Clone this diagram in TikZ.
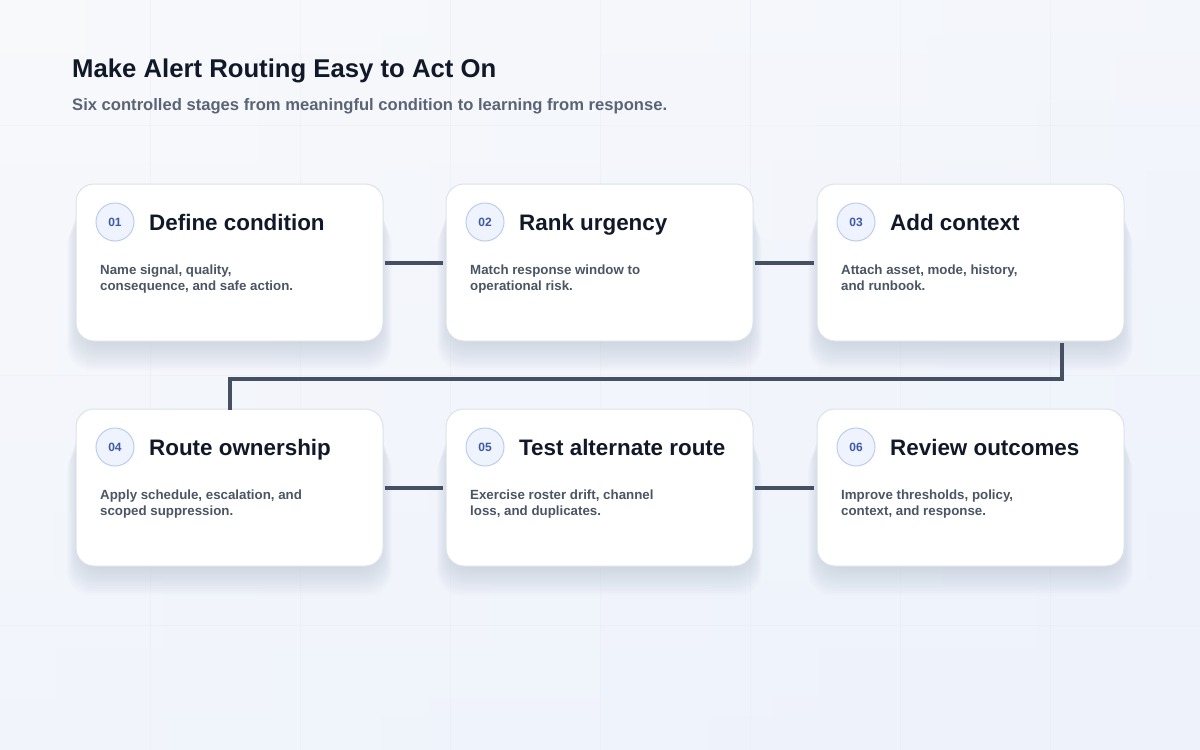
\documentclass[tikz,border=0pt]{standalone}
\usepackage{fontspec}
\setmainfont{Liberation Sans}
\usetikzlibrary{calc}
\definecolor{bgA}{HTML}{F8F9FB}
\definecolor{bgB}{HTML}{EDF2FB}
\definecolor{gridc}{HTML}{E6EAF1}
\definecolor{cardline}{HTML}{DCE2EB}
\definecolor{titlec}{HTML}{111827}
\definecolor{subc}{HTML}{5B6475}
\definecolor{bodyc}{HTML}{4B5563}
\definecolor{badgefill}{HTML}{EEF3FD}
\definecolor{badgeline}{HTML}{BCCDEC}
\definecolor{badgetext}{HTML}{3C5AA6}
\definecolor{linkc}{HTML}{465063}
\definecolor{shadowc}{HTML}{334155}
\tikzset{
  card/.style={rectangle, rounded corners=18pt, minimum width=307pt, minimum height=157pt,
    fill=white, draw=cardline, line width=1pt, inner sep=0pt},
  badge/.style={circle, minimum size=38pt, inner sep=0pt, fill=badgefill, draw=badgeline,
    line width=1pt, text=badgetext, font=\bfseries\fontsize{12}{12}\selectfont},
  cardtitle/.style={anchor=base west, inner sep=0pt, text=titlec, font=\bfseries\fontsize{22.4}{26}\selectfont},
  cardbody/.style={anchor=base west, inner sep=0pt, text=bodyc, align=left,
    font=\bfseries\fontsize{13.3}{16}\selectfont},
  link/.style={draw=linkc, line width=4pt},
  shadowlayer/.style={fill=shadowc, fill opacity=0.013, rounded corners=24pt},
}
\newcommand{\cardshadow}[2]{%
  \foreach \d in {3,6,...,39}{
    \pgfmathsetmacro{\e}{(\d-12)/3}
    \fill[shadowlayer] ({#1-153.5-\e},{#2-78.5+\d}) rectangle ({#1+153.5+\e},{#2+78.5+\d-\d/4});
  }}
\newcommand{\stagecard}[7]{%
  % #1 name, #2 x, #3 y, #4 number, #5 title, #6 line1, #7 line2
  \node[card] (#1) at (#2,#3) {};
  \node[badge] (#1b) at ({#2-114.5},{#3-40.5}) {#4};
  \node[cardtitle] (#1t) at ({#2-80.5},{#3-32.5}) {#5};
  \node[cardbody] (#1x) at ({#2-129.5},{#3+27.5}) {#6\\#7};
}
\begin{document}
\begin{tikzpicture}[x=1pt,y=-1pt]
\useasboundingbox (0,0) rectangle (1200,750);
\shade[shading angle=135, left color=bgA, right color=bgB] (0,0) rectangle (1200,750);
\shade[top color=bgA, bottom color=bgB, opacity=0.6] (0,0) rectangle (1200,750);
\foreach \gx in {150,300,...,1050} \draw[gridc, line width=0.8pt, opacity=0.4] (\gx,0) -- (\gx,750);
\foreach \gy in {125,375,625} \draw[gridc, line width=0.8pt, opacity=0.4] (0,\gy) -- (1200,\gy);

\node[anchor=base west, inner sep=0pt, text=titlec, font=\bfseries\fontsize{25.7}{30}\selectfont] (title) at (72,77) {Make Alert Routing Easy to Act On};
\node[anchor=base west, inner sep=0pt, text=subc, font=\bfseries\fontsize{16.6}{20}\selectfont] (subtitle) at (72,110) {Six controlled stages from meaningful condition to learning from response.};

\foreach \cx/\cy in {229.5/262.5,599.5/262.5,970.5/262.5,229.5/487.5,599.5/487.5,970.5/487.5}{\cardshadow{\cx}{\cy}}

\stagecard{s1}{229.5}{262.5}{01}{Define condition}{Name signal, quality,}{consequence, and safe action.}
\stagecard{s2}{599.5}{262.5}{02}{Rank urgency}{Match response window to}{operational risk.}
\stagecard{s3}{970.5}{262.5}{03}{Add context}{Attach asset, mode, history,}{and runbook.}
\stagecard{s4}{229.5}{487.5}{04}{Route ownership}{Apply schedule, escalation, and}{scoped suppression.}
\stagecard{s5}{599.5}{487.5}{05}{Test alternate route}{Exercise roster drift, channel}{loss, and duplicates.}
\stagecard{s6}{970.5}{487.5}{06}{Review outcomes}{Improve thresholds, policy,}{context, and response.}

\draw[link] ([xshift=1pt]s1.east) -- ([xshift=-3pt]s2.west);
\draw[link] ([xshift=1pt]s2.east) -- ([xshift=-3pt]s3.west);
\draw[link] ([xshift=1pt]s4.east) -- ([xshift=-3pt]s5.west);
\draw[link] ([xshift=1pt]s5.east) -- ([xshift=-3pt]s6.west);
\coordinate (bend) at (1062,379);
\draw[link] ([yshift=-1pt]s3.south -| bend) -- (bend) -| ([yshift=-1pt]s4.north);
\end{tikzpicture}
\end{document}
